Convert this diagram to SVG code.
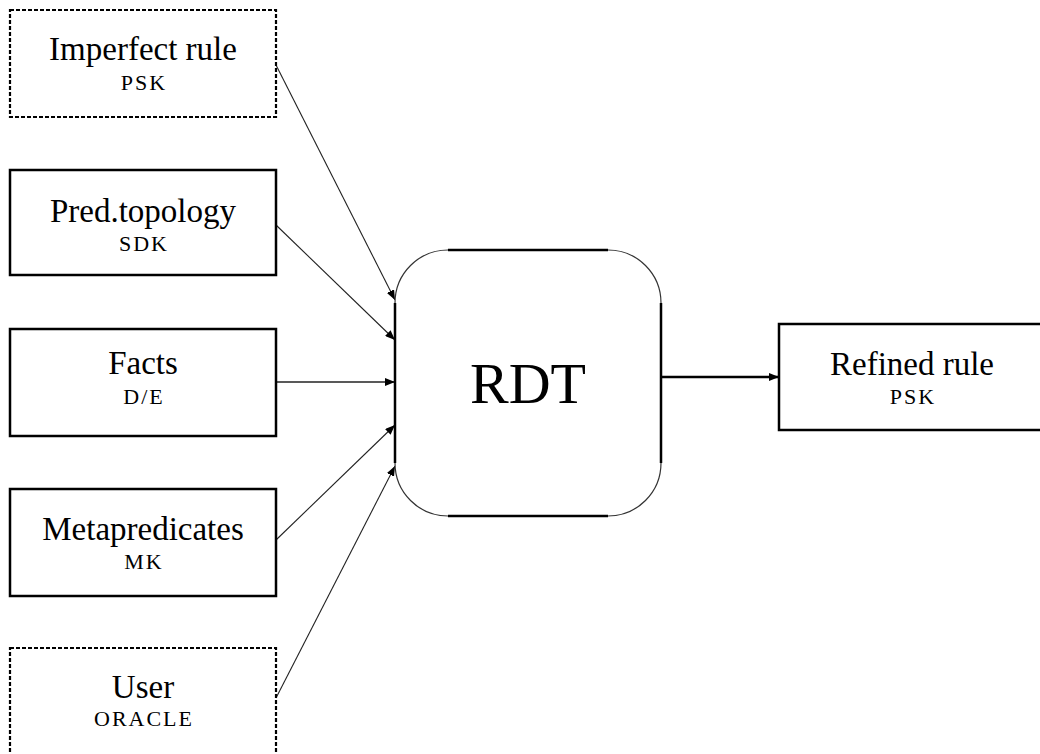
<svg xmlns="http://www.w3.org/2000/svg" width="1040" height="754" viewBox="0 0 1040 754">
<style>
.box{fill:#fff;stroke:#000;stroke-width:2.5}
.dash{fill:#fff;stroke:#000;stroke-width:2.2;stroke-dasharray:4 2}
.t{font-family:"Liberation Serif",serif;font-size:33px;text-anchor:middle;fill:#000}
.sc{font-family:"Liberation Serif",serif;font-size:22px;letter-spacing:2px;text-anchor:middle;fill:#000}
.c{stroke:#222;stroke-width:1.1;fill:none;marker-end:url(#ah)}
</style>
<defs>
<marker id="ah" viewBox="0 0 10 8" refX="10" refY="4" markerWidth="10" markerHeight="8" markerUnits="userSpaceOnUse" orient="auto">
<path d="M0,0 L10,4 L0,8 Z" fill="#000"/>
</marker>
</defs>
<g id="connectors">
<line class="c" x1="276" y1="65" x2="395" y2="300"/>
<line class="c" x1="276" y1="225" x2="395" y2="340"/>
<line class="c" x1="276" y1="382" x2="395" y2="382" style="stroke-width:1.6"/>
<line class="c" x1="276" y1="540" x2="395" y2="425"/>
<line class="c" x1="276" y1="698" x2="395" y2="466"/>
<line class="c" x1="661" y1="377" x2="779" y2="377" style="stroke:#000;stroke-width:2.5"/>
</g>
<g id="imperfect">
<rect class="dash" x="10" y="10" width="266" height="107"/>
<text class="t" x="143" y="60">Imperfect rule</text>
<text class="sc" x="144" y="90">PSK</text>
</g>
<g id="predtopology">
<rect class="box" x="10" y="170" width="266" height="105"/>
<text class="t" x="143" y="222">Pred.topology</text>
<text class="sc" x="144" y="251">SDK</text>
</g>
<g id="facts">
<rect class="box" x="10" y="329" width="266" height="107"/>
<text class="t" x="143" y="374">Facts</text>
<text class="sc" x="144" y="404">D/E</text>
</g>
<g id="metapredicates">
<rect class="box" x="10" y="489" width="266" height="107"/>
<text class="t" x="143" y="540">Metapredicates</text>
<text class="sc" x="144" y="569">MK</text>
</g>
<g id="user">
<rect class="dash" x="10" y="648" width="266" height="110"/>
<text class="t" x="143" y="698">User</text>
<text class="sc" x="144" y="726">ORACLE</text>
</g>
<g id="rdt">
<rect x="395" y="250" width="266" height="266" rx="53" ry="53" fill="#fff" stroke="#333" stroke-width="1.2"/>
<path d="M448,250 H608 M661,303 V463 M608,516 H448 M395,463 V303" stroke="#000" stroke-width="2.5" fill="none"/>
<text x="528" y="403" font-family="Liberation Serif,serif" font-size="58" text-anchor="middle">RDT</text>
</g>
<g id="refined">
<rect class="box" x="779" y="324" width="270" height="106"/>
<text class="t" x="912" y="375">Refined rule</text>
<text class="sc" x="913" y="404">PSK</text>
</g>
</svg>
